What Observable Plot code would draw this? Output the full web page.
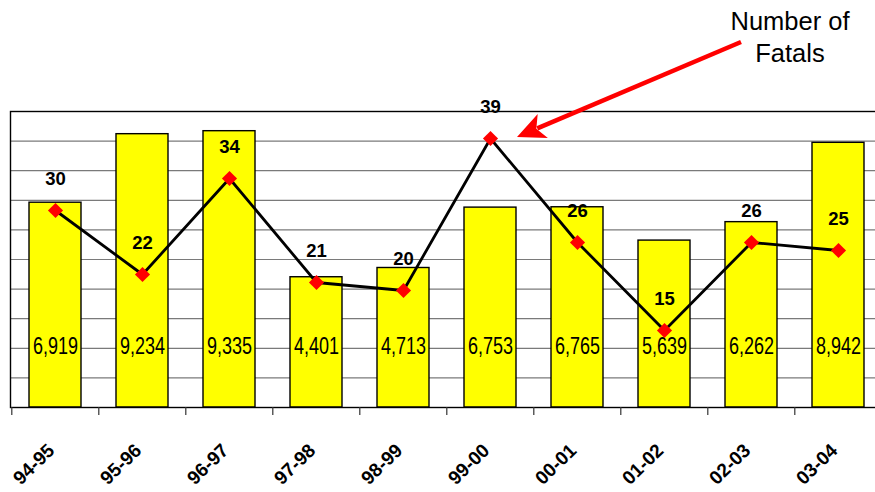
<!DOCTYPE html>
<html>
<head>
<meta charset="utf-8">
<script src="https://cdn.jsdelivr.net/npm/d3@7"></script>
<script src="https://cdn.jsdelivr.net/npm/@observablehq/plot@0.6"></script>
<style>
  html, body { margin: 0; padding: 0; background: #fff; overflow: hidden; }
  #chart svg { max-width: none !important; display: block; }
</style>
</head>
<body>
<div id="chart"></div>
<script>
const seasons = ["94-95", "95-96", "96-97", "97-98", "98-99", "99-00", "00-01", "01-02", "02-03", "03-04"];
const crashes = [6919, 9234, 9335, 4401, 4713, 6753, 6765, 5639, 6262, 8942];
const fatals = [30, 22, 34, 21, 20, 39, 26, 15, 26, 25];
const gridTicks = [1000, 2000, 3000, 4000, 5000, 6000, 7000, 8000, 9000];

const data = seasons.map((s, i) => ({season: s, crashes: crashes[i], fatals: fatals[i]}));

// secondary (fatals) axis mapped onto the primary bar scale
const barDomain = [0, 10000];
const fatalDomain = [5.375, 42.375];
const fy = d3.scaleLinear(fatalDomain, barDomain);

const W = 884, H = 492, ML = 10, MR = 0, MT = 111, MB = 85;
const step = (W - ML - MR) / seasons.length;
const font = "'Liberation Sans', Arial, Helvetica, sans-serif";

const narrow = (index, scales, values, dims, context, next) => {
  const g = next(index, scales, values, dims, context);
  d3.select(g).selectAll("text").attr("textLength", 45).attr("lengthAdjust", "spacingAndGlyphs");
  return g;
};

const chart = Plot.plot({
  width: W,
  height: H,
  marginLeft: ML,
  marginRight: MR,
  marginTop: MT,
  marginBottom: MB,
  style: {fontFamily: font, background: "#fff", overflow: "visible"},
  x: {domain: seasons, paddingInner: 0.4, paddingOuter: 0.2, label: null},
  y: {domain: barDomain, axis: null},
  marks: [
    Plot.ruleY(gridTicks, {stroke: "#7a7a7a", strokeWidth: 1.2}),
    Plot.barY(data, {x: "season", y: "crashes", fill: "#ffff00", stroke: "#000", strokeWidth: 1.4}),
    Plot.text(data, {x: "season", frameAnchor: "bottom", dy: -54, text: d => d3.format(",")(d.crashes), fontSize: 24, fill: "#000", render: narrow}),
    Plot.frame({stroke: "#000", strokeWidth: 1.4}),
    Plot.axisX({tickSize: 8, tickFormat: () => "", dx: -step / 2, stroke: "#333", strokeWidth: 1.2}),
    Plot.axisX({tickSize: 0, tickRotate: -44, tickPadding: 40, dx: -4, fontSize: 19, fontWeight: "bold", fill: "#000", label: null}),
    Plot.line(data, {x: "season", y: d => fy(d.fatals), stroke: "#000", strokeWidth: 2.8}),
    Plot.dot(data, {x: "season", y: d => fy(d.fatals), symbol: "diamond2", r: 6.8, fill: "#ff0000", stroke: "none"}),
    Plot.text(data, {x: "season", y: d => fy(d.fatals), text: "fatals", dy: -31, fontSize: 18.5, fontWeight: "bold", fill: "#000"})
  ]
});
document.getElementById("chart").append(chart);

// annotation anchored to the 99-00 fatal point
const xS = chart.scale("x"), yS = chart.scale("y");
const bx = xS.apply ? xS.apply("99-00") : d3.scaleBand(xS.domain, xS.range).paddingInner(xS.paddingInner ?? 0.4).paddingOuter(xS.paddingOuter ?? 0.2)("99-00");
const px = bx + xS.bandwidth / 2;
const py = yS.apply ? yS.apply(fy(39)) : d3.scaleLinear(yS.domain, yS.range)(fy(39));
const svg = d3.select(chart);
const g = svg.append("g");
const tip = [px + 27, py - 1];
const tail = [px + 251, py - 96];
const dxv = tip[0] - tail[0], dyv = tip[1] - tail[1];
const len = Math.hypot(dxv, dyv);
const ux = dxv / len, uy = dyv / len;
const hl = 28, hw = 13;
const base = [tip[0] - ux * hl, tip[1] - uy * hl];
g.append("line")
  .attr("x1", tail[0]).attr("y1", tail[1])
  .attr("x2", base[0] + ux * 6).attr("y2", base[1] + uy * 6)
  .attr("stroke", "#ff0000").attr("stroke-width", 4.5);
g.append("path")
  .attr("d", `M${tip[0]},${tip[1]}L${base[0] - uy * hw},${base[1] + ux * hw}L${base[0] + ux * 7},${base[1] + uy * 7}L${base[0] + uy * hw},${base[1] - ux * hw}Z`)
  .attr("fill", "#ff0000");
const t = g.append("text")
  .attr("font-family", font).attr("font-size", 25.5).attr("fill", "#000")
  .attr("text-anchor", "middle");
t.append("tspan").attr("x", px + 300).attr("y", py - 108).text("Number of");
t.append("tspan").attr("x", px + 300).attr("y", py - 76).text("Fatals");
</script>
</body>
</html>
